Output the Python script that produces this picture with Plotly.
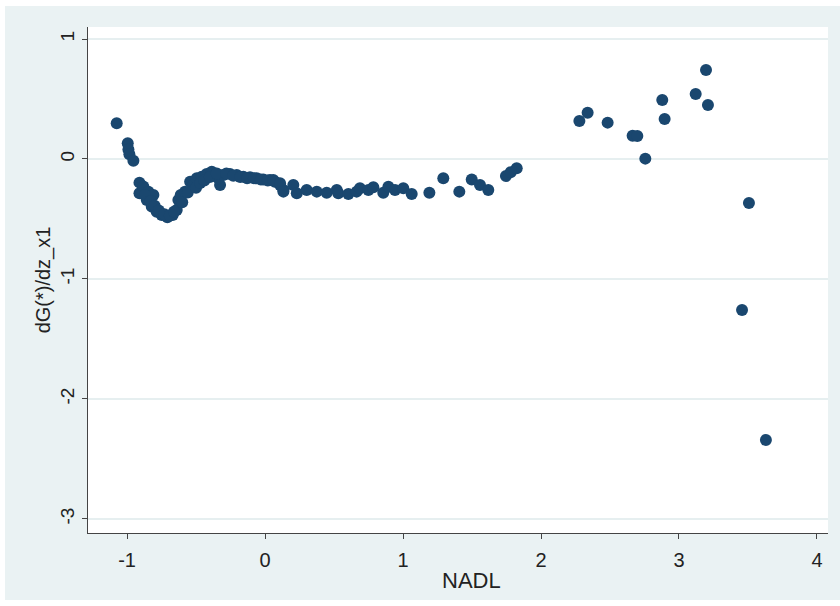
import plotly.graph_objects as go

nadl = [
    -1.075, -0.995, -0.99, -0.983, -0.954,
    -0.91, -0.91, -0.882, -0.845, -0.809, -0.857, -0.821, -0.785, -0.749, -0.708,
    -0.669, -0.64, -0.628, -0.611, -0.58, -0.543, -0.52, -0.495, -0.459, -0.423,
    -0.386, -0.362, -0.326, -0.338, -0.302, -0.254, -0.205, -0.157, -0.109, -0.06,
    -0.012, 0.036, 0.072, 0.109, 0.133,
    -0.87, -0.83, -0.80, -0.77, -0.73, -0.69, -0.66, -0.60, -0.56, -0.50, -0.47,
    -0.44, -0.40, -0.35, -0.28, -0.23, -0.18, -0.13, -0.08, -0.03, 0.02,
    0.06, 0.109, 0.133, 0.205, 0.23, 0.302, 0.375, 0.447, 0.52, 0.531, 0.604,
    0.664, 0.688, 0.749, 0.785, 0.857, 0.894, 0.942, 1.002, 1.063, 1.191,
    1.292, 1.408, 1.498, 1.558, 1.618, 1.746, 1.78, 1.824,
    2.278, 2.338, 2.483, 2.664, 2.698, 2.756, 2.879, 2.896, 3.121, 3.196, 3.21,
    3.457, 3.507, 3.63,
]
dg = [
    0.297, 0.131, 0.08, 0.039, -0.014,
    -0.197, -0.286, -0.23, -0.272, -0.3, -0.342, -0.397, -0.439, -0.467, -0.486,
    -0.467, -0.425, -0.342, -0.3, -0.272, -0.189, -0.217, -0.161, -0.147, -0.125,
    -0.106, -0.133, -0.217, -0.161, -0.133, -0.125, -0.133, -0.147, -0.153, -0.161,
    -0.17, -0.175, -0.189, -0.217, -0.258,
    -0.3, -0.35, -0.39, -0.43, -0.46, -0.47, -0.44, -0.36, -0.28, -0.24, -0.2,
    -0.18, -0.15, -0.12, -0.12, -0.14, -0.15, -0.16, -0.16, -0.17, -0.18,
    -0.175, -0.203, -0.272, -0.217, -0.286, -0.258, -0.272, -0.281, -0.258, -0.286, -0.292,
    -0.272, -0.244, -0.258, -0.236, -0.281, -0.231, -0.258, -0.244, -0.292, -0.281,
    -0.161, -0.272, -0.17, -0.217, -0.258, -0.142, -0.111, -0.078,
    0.317, 0.386, 0.303, 0.194, 0.192, 0.003, 0.492, 0.333, 0.542, 0.742, 0.45,
    -1.258, -0.367, -2.342,
]

x_ticks = [-1, 0, 1, 2, 3, 4]
y_ticks = [-3, -2, -1, 0, 1]
x_title = "NADL"
y_title = "dG(*)/dz_x1"

FONT = "Liberation Sans, Arial, sans-serif"
BG = "#eaf2f3"

fig = go.Figure()
fig.add_trace(go.Scatter(
    x=nadl, y=dg, mode="markers",
    marker=dict(size=12, color="#1a476f", line=dict(width=0)),
    showlegend=False, hoverinfo="skip",
))

PW, PH = 740, 506
white_strips = [
    # left strip
    dict(x0=-88 / PW, x1=-83 / PW, y0=-73 / PH, y1=1 + 27 / PH),
    # top strip
    dict(x0=-88 / PW, x1=1 + 12 / PW, y0=1 + 21 / PH, y1=1 + 27 / PH),
    # bottom strip
    dict(x0=-88 / PW, x1=1 + 12 / PW, y0=-73 / PH, y1=-67 / PH),
]
shapes = [dict(type="rect", xref="paper", yref="paper", fillcolor="white",
               line=dict(width=0), layer="above", **s) for s in white_strips]

fig.update_layout(
    width=840, height=606,
    margin=dict(l=88, r=12, t=27, b=73),
    paper_bgcolor=BG,
    plot_bgcolor="white",
    font=dict(family=FONT, size=16, color="#222"),
    shapes=shapes,
    annotations=[dict(text=x_title, xref="paper", yref="paper",
                      x=(471 - 88) / PW, y=(533 - 580) / PH,
                      xanchor="center", yanchor="middle", showarrow=False,
                      font=dict(size=22, family=FONT, color="#222"))],
    xaxis=dict(
        range=[-1.283, 4.08], tickvals=x_ticks, ticktext=[str(v) for v in x_ticks],
        tickfont=dict(size=20, family=FONT, color="#222"),
        ticklabelstandoff=4,
        showgrid=False, zeroline=False, showline=True, linecolor="#444", linewidth=1,
        ticks="outside", ticklen=5, tickcolor="#444",
    ),
    yaxis=dict(
        range=[-3.117, 1.1], tickvals=y_ticks, ticktext=[str(v) for v in y_ticks],
        tickangle=-90,
        tickfont=dict(size=19, family=FONT, color="#222"),
        ticklabelstandoff=0,
        showgrid=True, gridcolor="#e6eff0", gridwidth=1.5, zeroline=False,
        showline=True, linecolor="#444", linewidth=1,
        ticks="outside", ticklen=5, tickcolor="#444",
        title=dict(text=y_title, font=dict(size=20, family=FONT, color="#222"), standoff=1),
    ),
)

fig.write_html("out.html")
